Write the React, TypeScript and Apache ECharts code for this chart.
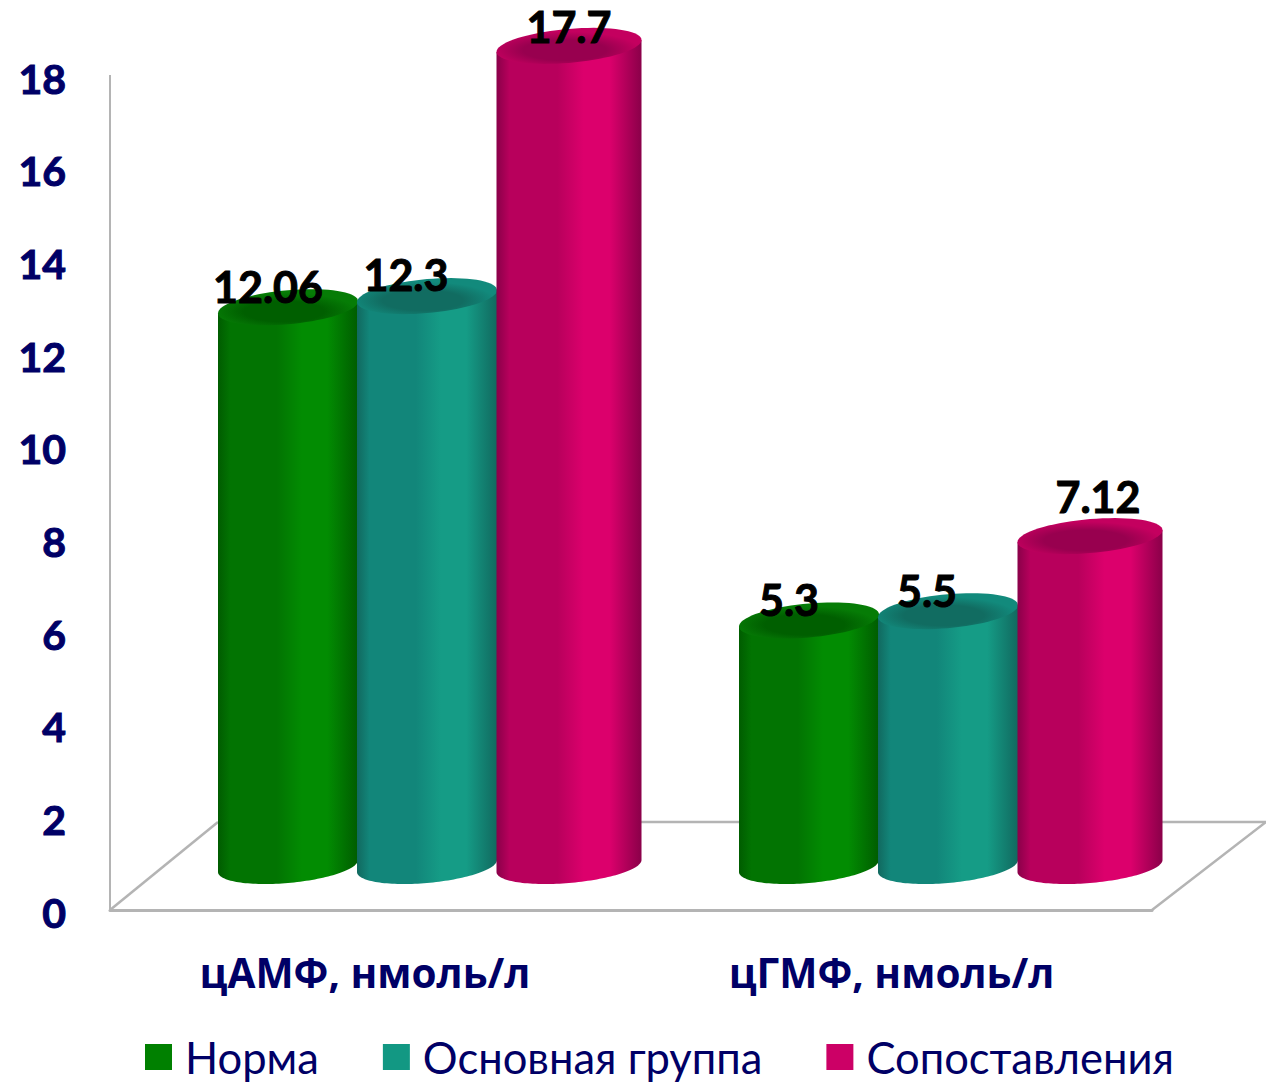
import React, { useEffect, useRef } from "react";
import * as echarts from "echarts";

const categories = ["цАМФ, нмоль/л", "цГМФ, нмоль/л"];
const seriesNames = ["Норма", "Основная группа", "Сопоставления"];
const normaValues = [12.06, 5.3];
const mainGroupValues = [12.3, 5.5];
const comparisonValues = [17.7, 7.12];
const yTicks = { min: 0, max: 18, interval: 2 };

// Shading per cylinder: side edge, highlight, legend swatch, lid
const shades = [
  { edge: "#005c00", mid: "#027402", light: "#028c02", swatch: "#008000", lid: "#005f00", rim: "#067c06" },
  { edge: "#11695f", mid: "#12867a", light: "#159c86", swatch: "#129883", lid: "#116c61", rim: "#128a7c" },
  { edge: "#8a0049", mid: "#b8005c", light: "#dc006c", swatch: "#cc0066", lid: "#98004f", rim: "#c4005f" },
];

// Cylinder placement relative to the category centre, in pixels
const barOffsets = [-82.5, 56.5, 198.5];
const barWidths = [140, 140, 145];
const DEPTH = 46;
const ELLIPSE_B = 17;
const ELLIPSE_SHEAR = 6;

// Value labels sit slightly off the cylinder axis, keyed by [series][category]
const labelShift = [
  [[-20, -21], [-20, -21]],
  [[-21, -22], [-21, -21]],
  [[0, -19], [8, -40]],
];

const NUM_FONT = "Lato";
const NAVY = "#000066";
const GRID_LINE = "#b4b4b4";

const ellipsePoints = (cx: number, cy: number, a: number, b: number, s: number, from = 0, to = Math.PI * 2, n = 72) => {
  const pts: number[][] = [];
  for (let i = 0; i <= n; i++) {
    const t = from + ((to - from) * i) / n;
    pts.push([cx + a * Math.cos(t), cy + b * Math.sin(t) - s * Math.cos(t)]);
  }
  return pts;
};

const makeRenderItem = (seriesIndex: number) => (_params: any, api: any) => {
  const cat = api.value(0);
  const val = api.value(1);
  const [px, top] = api.coord([cat, val]);
  const [, floor] = api.coord([cat, 0]);
  const cx = px + barOffsets[seriesIndex];
  const a = barWidths[seriesIndex] / 2;
  const topY = top - DEPTH;
  const baseY = floor - DEPTH;
  const c = shades[seriesIndex];
  const side = new echarts.graphic.LinearGradient(0, 0, 1, 0, [
    { offset: 0, color: c.edge },
    { offset: 0.09, color: c.mid },
    { offset: 0.42, color: c.mid },
    { offset: 0.6, color: c.light },
    { offset: 0.78, color: c.light },
    { offset: 1, color: c.edge },
  ]);
  const lid = new echarts.graphic.RadialGradient(0.47, 0.62, 0.52, [
    { offset: 0, color: c.lid },
    { offset: 0.55, color: c.lid },
    { offset: 1, color: c.rim },
  ]);
  const lower = ellipsePoints(cx, baseY, a, ELLIPSE_B, ELLIPSE_SHEAR, Math.PI, 0);
  const body = [...lower, [cx + a, topY - ELLIPSE_SHEAR], [cx - a, topY + ELLIPSE_SHEAR]];
  const [dx, dy] = labelShift[seriesIndex][cat];
  return {
    type: "group",
    children: [
      { type: "polygon", shape: { points: body }, style: { fill: side } },
      {
        type: "polygon",
        shape: { points: ellipsePoints(cx, topY, a, ELLIPSE_B, ELLIPSE_SHEAR) },
        style: { fill: lid },
      },
      {
        type: "text",
        z2: 10,
        style: {
          x: cx + dx,
          y: topY + dy,
          text: String(val),
          fill: "#000000",
          stroke: "#000000",
          lineWidth: 1,
          fontFamily: NUM_FONT,
          fontWeight: "bold",
          fontSize: 43,
          align: "center",
          verticalAlign: "middle",
        },
      },
    ],
  };
};

export default function App() {
  const ref = useRef<HTMLDivElement>(null);
  useEffect(() => {
    document.body.style.margin = "0";
    const chart = echarts.init(ref.current!, null, { renderer: "svg" });
    const valueSets = [normaValues, mainGroupValues, comparisonValues];
    const floorLine = { stroke: GRID_LINE, lineWidth: 2.5 };
    const categoryFont = { color: NAVY, fontFamily: "Open Sans", fontWeight: "bold" as const, fontSize: 40.5 };
    chart.setOption({
      animation: false,
      backgroundColor: "#ffffff",
      grid: { left: 110, top: 78, width: 1042, height: 834, containLabel: false },
      xAxis: {
        type: "category",
        data: categories,
        offset: -2,
        axisLine: { show: true, lineStyle: { color: GRID_LINE, width: 3 } },
        axisTick: { show: false },
        axisLabel: {
          ...categoryFont,
          interval: 0,
          hideOverlap: false,
          margin: 42,
          formatter: (v: string, i: number) => (i === 0 ? `{first|${v}}` : v),
          rich: { first: { ...categoryFont, padding: [0, 11, 0, 0] } },
        },
      },
      yAxis: {
        type: "value",
        min: yTicks.min,
        max: yTicks.max,
        interval: yTicks.interval,
        splitLine: { show: false },
        axisTick: { show: false },
        axisLine: { show: false },
        axisLabel: {
          color: NAVY,
          fontFamily: NUM_FONT,
          fontWeight: "bold",
          fontSize: 41,
          margin: 44,
          textBorderColor: NAVY,
          textBorderWidth: 1,
        },
      },
      legend: {
        left: 145,
        top: 1035,
        padding: 0,
        icon: "rect",
        itemWidth: 27,
        itemHeight: 26,
        itemGap: 64,
        data: seriesNames,
        textStyle: { color: NAVY, fontFamily: "Lato", fontSize: 43.5, padding: [0, 0, 14, 8] },
      },
      graphic: [
        { type: "line", z: 0, shape: { x1: 110, y1: 75, x2: 110, y2: 910 }, style: { stroke: GRID_LINE, lineWidth: 2 } },
        { type: "line", z: 0, shape: { x1: 110, y1: 910, x2: 218, y2: 822 }, style: floorLine },
        { type: "line", z: 0, shape: { x1: 218, y1: 822, x2: 1266, y2: 822 }, style: floorLine },
        { type: "line", z: 0, shape: { x1: 1152, y1: 910, x2: 1266, y2: 822 }, style: floorLine },
      ],
      series: seriesNames.map((name, i) => ({
        name,
        type: "custom",
        coordinateSystem: "cartesian2d",
        clip: false,
        z: 3 + i,
        itemStyle: { color: shades[i].swatch },
        encode: { x: 0, y: 1 },
        renderItem: makeRenderItem(i),
        data: valueSets[i].map((v, c) => [c, v]),
      })),
    });
    return () => chart.dispose();
  }, []);
  return <div ref={ref} style={{ position: "absolute", left: 0, top: 0, width: 1266, height: 1082 }} />;
}
